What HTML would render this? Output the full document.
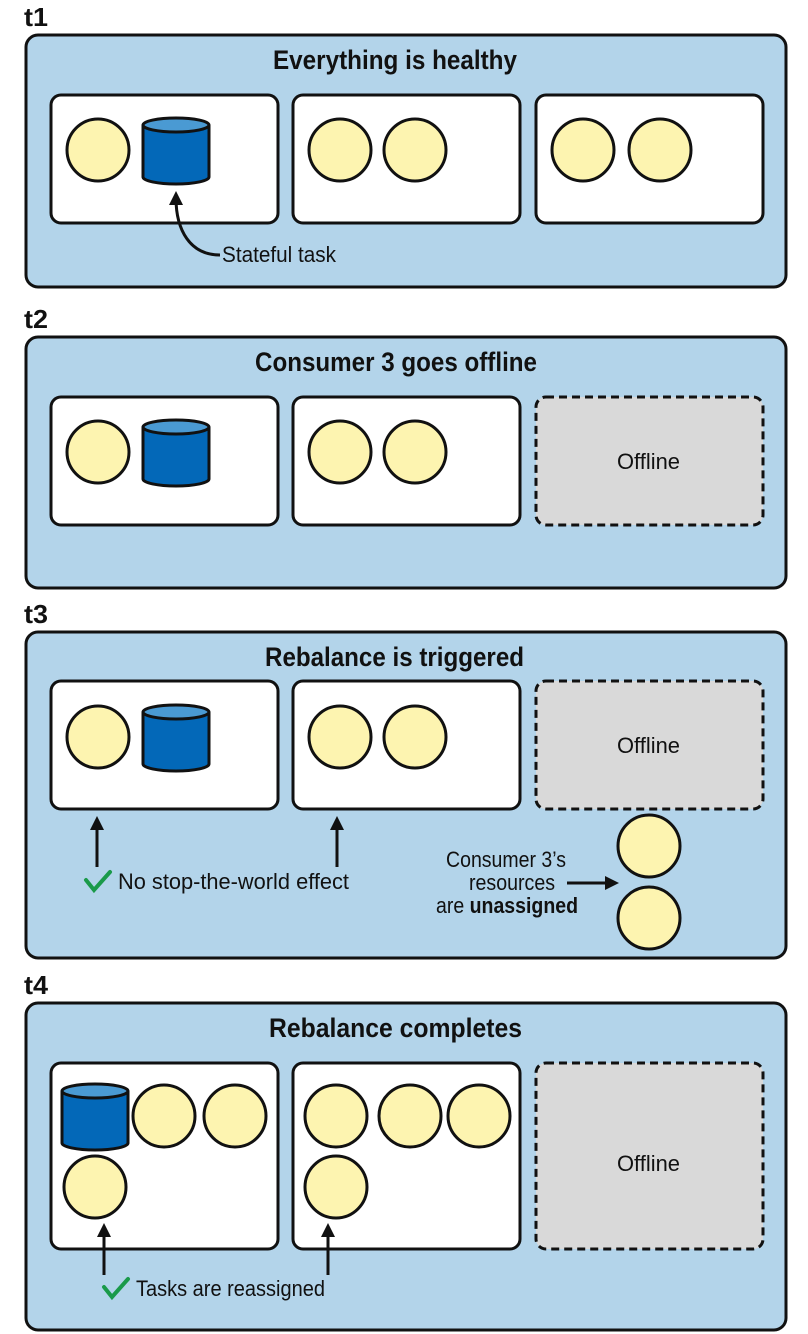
<!DOCTYPE html>
<html><head><meta charset="utf-8"><style>
html,body{margin:0;padding:0;background:#fff;}
svg{display:block;}
text{font-family:"Liberation Sans Narrow","Liberation Sans",sans-serif;fill:#111;}
</style></head><body>
<svg width="808" height="1334" viewBox="0 0 808 1334" xmlns="http://www.w3.org/2000/svg">
<defs>
<g id="cyl">
<path d="M0,7 L0,59 A33,7 0 0 0 66,59 L66,7" fill="#0368b8" stroke="#111" stroke-width="3"/>
<ellipse cx="33" cy="7" rx="33" ry="7" fill="#4a9ad3" stroke="#111" stroke-width="3"/>
</g>
<marker id="ah" markerWidth="14" markerHeight="14" refX="7" refY="7" orient="auto" markerUnits="userSpaceOnUse" viewBox="0 0 14 14"><path d="M0,0 L14,7 L0,14 Z" fill="#111"/></marker>
</defs>
<g stroke="#111" stroke-width="3">
<rect x="26" y="35" width="760" height="252" rx="12" fill="#b3d4ea"/>
<rect x="26" y="337" width="760" height="251" rx="12" fill="#b3d4ea"/>
<rect x="26" y="632" width="760" height="326" rx="12" fill="#b3d4ea"/>
<rect x="26" y="1003" width="760" height="327" rx="12" fill="#b3d4ea"/>
</g>
<g font-size="26" font-weight="bold">
<text x="24" y="26" textLength="24" lengthAdjust="spacingAndGlyphs">t1</text><text x="24" y="328" textLength="24" lengthAdjust="spacingAndGlyphs">t2</text><text x="24" y="623" textLength="24" lengthAdjust="spacingAndGlyphs">t3</text><text x="24" y="994" textLength="24" lengthAdjust="spacingAndGlyphs">t4</text>
</g>
<g font-size="27" font-weight="bold">
<text x="273" y="69" textLength="244" lengthAdjust="spacingAndGlyphs">Everything is healthy</text>
<text x="255" y="371" textLength="282" lengthAdjust="spacingAndGlyphs">Consumer 3 goes offline</text>
<text x="265" y="666" textLength="259" lengthAdjust="spacingAndGlyphs">Rebalance is triggered</text>
<text x="269" y="1037" textLength="253" lengthAdjust="spacingAndGlyphs">Rebalance completes</text>
</g>
<g stroke="#111" stroke-width="3" fill="#fff">
<rect x="51" y="95" width="227" height="128" rx="10"/><rect x="293" y="95" width="227" height="128" rx="10"/><rect x="536" y="95" width="227" height="128" rx="10"/>
<rect x="51" y="397" width="227" height="128" rx="10"/><rect x="293" y="397" width="227" height="128" rx="10"/>
<rect x="51" y="681" width="227" height="128" rx="10"/><rect x="293" y="681" width="227" height="128" rx="10"/>
<rect x="51" y="1063" width="227" height="186" rx="10"/><rect x="293" y="1063" width="227" height="186" rx="10"/>
</g>
<g stroke="#111" stroke-width="3" fill="#d9d9d9" stroke-dasharray="8,5">
<rect x="536" y="397" width="227" height="128" rx="10"/>
<rect x="536" y="681" width="227" height="128" rx="10"/>
<rect x="536" y="1063" width="227" height="186" rx="10"/>
</g>
<g font-size="22">
<text x="617" y="469" textLength="63" lengthAdjust="spacingAndGlyphs">Offline</text><text x="617" y="753" textLength="63" lengthAdjust="spacingAndGlyphs">Offline</text><text x="617" y="1171" textLength="63" lengthAdjust="spacingAndGlyphs">Offline</text>
</g>
<g fill="#fdf4b0" stroke="#111" stroke-width="3">
<circle cx="98" cy="150" r="31"/><circle cx="340" cy="150" r="31"/><circle cx="415" cy="150" r="31"/><circle cx="583" cy="150" r="31"/><circle cx="660" cy="150" r="31"/>
<circle cx="98" cy="452" r="31"/><circle cx="340" cy="452" r="31"/><circle cx="415" cy="452" r="31"/>
<circle cx="98" cy="737" r="31"/><circle cx="340" cy="737" r="31"/><circle cx="415" cy="737" r="31"/>
<circle cx="649" cy="846" r="31"/><circle cx="649" cy="918" r="31"/>
<circle cx="164" cy="1116" r="31"/><circle cx="235" cy="1116" r="31"/><circle cx="95" cy="1187" r="31"/>
<circle cx="336" cy="1116" r="31"/><circle cx="410" cy="1116" r="31"/><circle cx="479" cy="1116" r="31"/><circle cx="336" cy="1187" r="31"/>
</g>
<use href="#cyl" x="143" y="118"/><use href="#cyl" x="143" y="420"/><use href="#cyl" x="143" y="705"/><use href="#cyl" x="62" y="1084"/>
<g stroke="#111" stroke-width="3" fill="none" marker-end="url(#ah)">
<path d="M220,255 C190,255 176,230 176,198"/>
<path d="M97,867 L97,823"/><path d="M337,867 L337,823"/>
<path d="M567,883 L612,883"/>
<path d="M104,1275 L104,1230"/><path d="M328,1275 L328,1230"/>
</g>
<g font-size="22">
<text x="222" y="262" textLength="114" lengthAdjust="spacingAndGlyphs">Stateful task</text>
<text x="118" y="889" textLength="231" lengthAdjust="spacingAndGlyphs">No stop-the-world effect</text>
<text x="136" y="1296" textLength="189" lengthAdjust="spacingAndGlyphs">Tasks are reassigned</text>
<text x="446" y="867" textLength="120" lengthAdjust="spacingAndGlyphs">Consumer 3’s</text>
<text x="469" y="890" textLength="86" lengthAdjust="spacingAndGlyphs">resources</text>
<text x="436" y="913" textLength="142" lengthAdjust="spacingAndGlyphs">are <tspan font-weight="bold">unassigned</tspan></text>
</g>
<g stroke="#1a9a4a" stroke-width="4" fill="none" stroke-linecap="round">
<path d="M86,880 L94,890 L110,872"/>
<path d="M104,1287 L112,1297 L128,1279"/>
</g>
</svg>
</body></html>
